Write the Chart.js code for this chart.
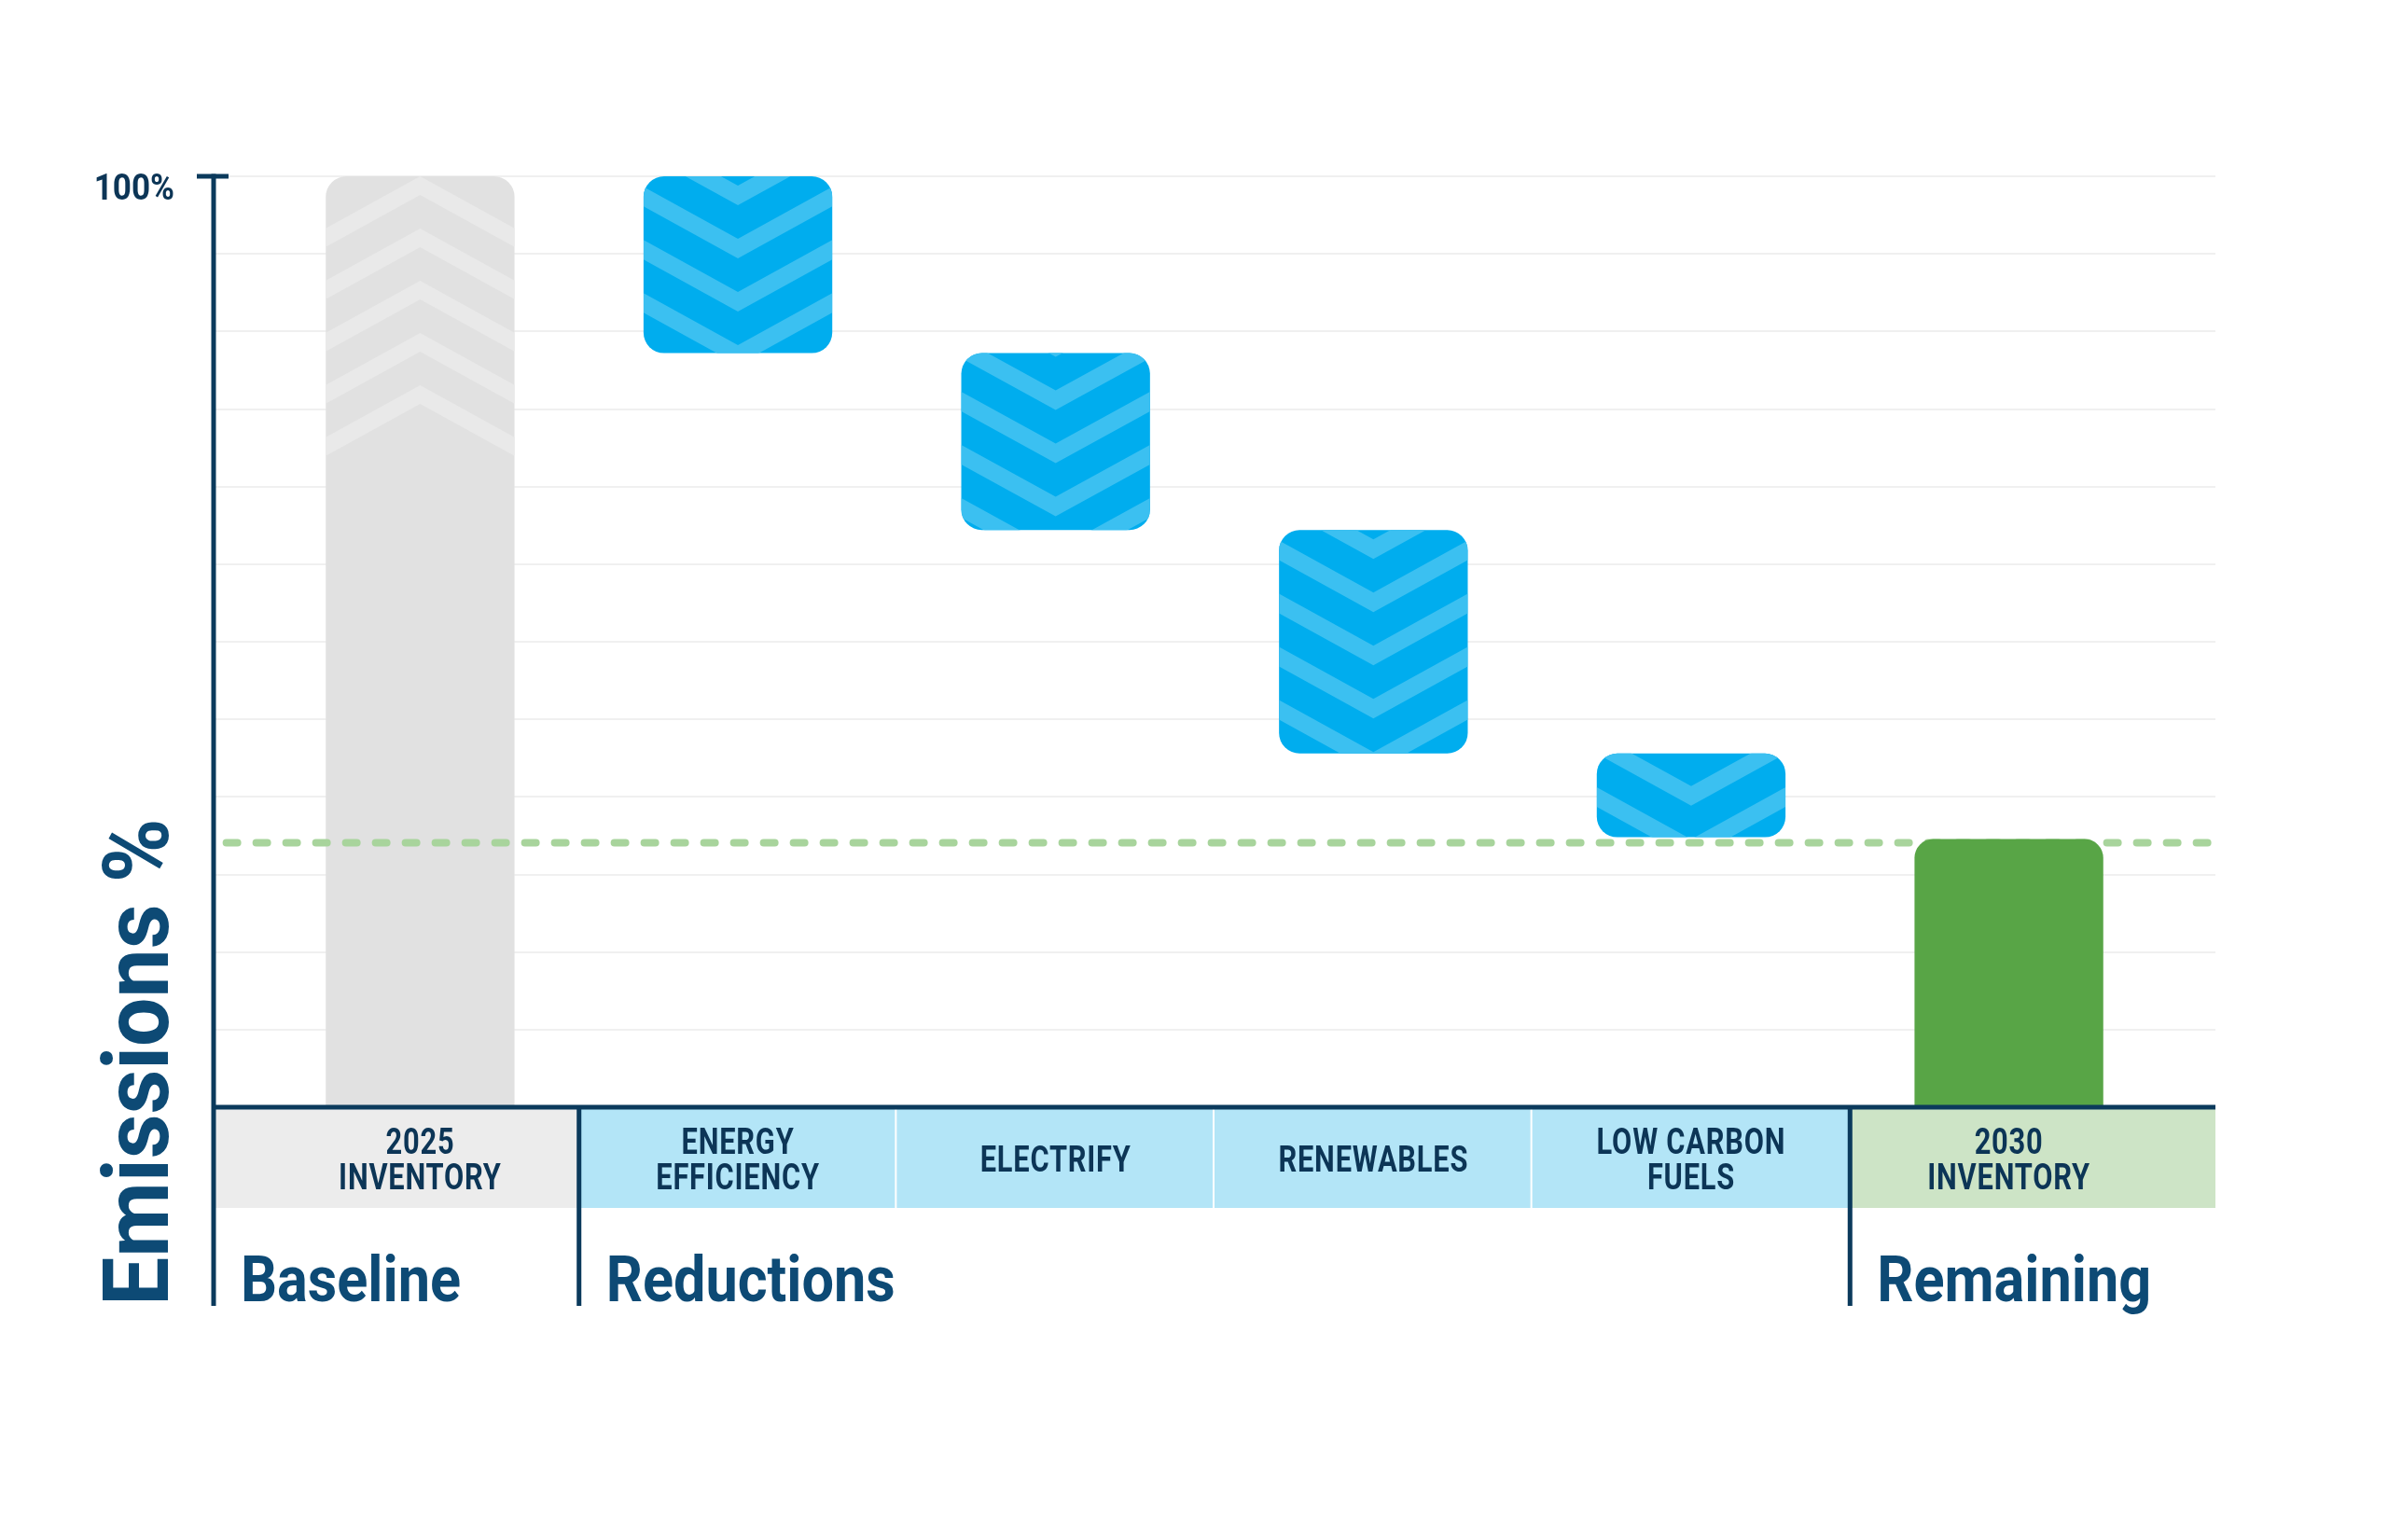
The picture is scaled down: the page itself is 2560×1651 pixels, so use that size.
<!DOCTYPE html>
<html>
<head>
<meta charset="utf-8">
<script src="https://cdn.jsdelivr.net/npm/chart.js@4.4.1/dist/chart.umd.min.js"></script>
<style>
  html, body { margin: 0; padding: 0; background: #fff; }
  canvas { display: block; }
</style>
</head>
<body>
<canvas id="chart" width="2560" height="1651"></canvas>
<script>
// ── Data ──
const categories = [['2025', 'INVENTORY'], ['ENERGY', 'EFFICIENCY'], ['ELECTRIFY'], ['RENEWABLES'], ['LOW CARBON', 'FUELS'], ['2030', 'INVENTORY']];
const categoryGroup = [0, 1, 1, 1, 1, 2];
const sections = ['Baseline', 'Reductions', 'Remaining'];
const baselineValue = 100;
const reductionFrom = [100, 81, 62, 38];
const reductionTo = [81, 62, 38, 29];
const remainingValue = 28.8;
const targetLevel = 28.4;
const yTopLabel = '100%';
const yTitle = 'Emissions %';

// ── Styles ──
const NAVY = '#0b3a5c';
const LABEL = '#0c3556';
const TITLE = '#0d4a75';
const GRAY = '#e1e1e1', GRAY_LIGHT = '#e9e9e9';
const BLUE = '#00adee', BLUE_LIGHT = '#3bc0f1';
const GREEN = '#58a546';
const DASH = '#a8d49c';
const BOX = ['#ececec', '#b3e5f7', '#cde4c6'];
const X_MIN = -0.65, X_MAX = 5.65;

// ── chevron stripes clipped to a bar ──
function drawChevrons(ctx, el, opt, phase, radius) {
  const { x, y, base, width } = el.getProps(['x', 'y', 'base', 'width'], true);
  const left = x - width / 2, right = x + width / 2;
  const top = Math.min(y, base), bottom = Math.max(y, base);
  const drop = (width / 2) * 0.55, period = opt.period, band = opt.band;
  ctx.save();
  ctx.beginPath();
  ctx.roundRect(left, top, width, bottom - top, radius);
  ctx.clip();
  ctx.fillStyle = opt.light;
  const from = opt.count ? 0 : -1;
  const to = opt.count ? opt.count : Math.ceil((bottom - top) / period) + 2;
  for (let k = from; k < to; k++) {
    const c = top + phase + k * period;
    const e = opt.dir === 'down' ? c - drop : c + drop;
    ctx.beginPath();
    ctx.moveTo(left, e); ctx.lineTo(x, c); ctx.lineTo(right, e);
    ctx.lineTo(right, e + band); ctx.lineTo(x, c + band); ctx.lineTo(left, e + band);
    ctx.closePath();
    ctx.fill();
  }
  ctx.restore();
}

function squeezeText(ctx, str, x, y, font, color, align, sx, spacing) {
  ctx.save();
  ctx.font = font;
  ctx.fillStyle = color;
  ctx.textAlign = align;
  ctx.textBaseline = 'alphabetic';
  if (spacing) ctx.letterSpacing = spacing;
  ctx.translate(x, y);
  ctx.scale(sx, 1);
  ctx.fillText(str, 0, 0);
  ctx.restore();
}

const decor = {
  id: 'decor',
  afterDatasetDraw(chart, args) {
    const ds = chart.data.datasets[args.index];
    if (!ds.chevron) return;
    const ctx = chart.ctx;
    args.meta.data.forEach((el, i) => {
      drawChevrons(ctx, el, ds.chevron, ds.chevron.phases[i], ds.chevron.radius);
    });
  },
  afterDraw(chart) {
    const ctx = chart.ctx;
    const { left, right, bottom } = chart.chartArea;
    const xs = chart.scales.x, ys = chart.scales.y;
    const yTop = ys.getPixelForValue(100);
    const boxTop = bottom + 2, boxBottom = bottom + 108;
    const stemBottom = bottom + 213;
    const last = categories.length - 1;
    const edge = i => i < 0 ? left : i >= last ? right : xs.getPixelForValue(i + 0.5);

    // category boxes
    categories.forEach((lines, i) => {
      const x0 = edge(i - 1), x1 = edge(i);
      ctx.fillStyle = BOX[categoryGroup[i]];
      ctx.fillRect(x0, boxTop, x1 - x0, boxBottom - boxTop);
      if (i < last && categoryGroup[i] === categoryGroup[i + 1]) {
        ctx.fillStyle = '#fff';
        ctx.fillRect(x1 - 2, boxTop, 4, boxBottom - boxTop);
      }
      const cx = xs.getPixelForValue(i);
      const mid = (boxTop + boxBottom) / 2;
      lines.forEach((t, k) => {
        const cy = mid + (k - (lines.length - 1) / 2) * 38 + 14;
        squeezeText(ctx, t, cx, cy, 'bold 39px Roboto', LABEL, 'center', 0.79, '1px');
      });
    });

    ctx.fillStyle = NAVY;
    // y axis stem + top tick
    ctx.fillRect(left - 2.5, yTop - 2.5, 5, stemBottom - yTop + 2.5);
    ctx.fillRect(left - 18, yTop - 2.5, 34, 5);
    // x axis
    ctx.fillRect(left, bottom - 2.5, right - left, 5);
    // section dividers + section titles
    sections.forEach((name, g) => {
      const idx = categoryGroup.indexOf(g);
      const x0 = g === 0 ? left : edge(idx - 1);
      if (g > 0) {
        ctx.fillStyle = NAVY;
        ctx.fillRect(x0 - 2.5, bottom, 5, stemBottom - bottom);
      }
      squeezeText(ctx, name, x0 + 29, bottom + 208, 'bold 68px Roboto', TITLE, 'left', 0.9);
    });

    // 100% label
    squeezeText(ctx, yTopLabel, left - 42, yTop + 25, 'bold 39px Roboto', LABEL, 'right', 0.9);

    // rotated axis title
    ctx.save();
    ctx.translate(left - 49, stemBottom);
    ctx.rotate(-Math.PI / 2);
    squeezeText(ctx, yTitle, 0, 0, 'bold 98px Roboto', TITLE, 'left', 0.95);
    ctx.restore();
  }
};

function build() {
  const ctx = document.getElementById('chart');
  new Chart(ctx, {
    type: 'bar',
    data: {
      datasets: [
        {
          label: 'Baseline',
          data: [{ x: 0, y: [0, baselineValue] }],
          backgroundColor: GRAY,
          borderSkipped: false,
          borderRadius: { topLeft: 22, topRight: 22, bottomLeft: 0, bottomRight: 0 },
          grouped: false,
          order: 3,
          chevron: { dir: 'up', light: GRAY_LIGHT, period: 56, band: 20, count: 5, phases: [0], radius: [22, 22, 0, 0] }
        },
        {
          type: 'line',
          label: 'Target',
          data: [{ x: X_MIN + 0.04, y: targetLevel }, { x: X_MAX, y: targetLevel }],
          borderColor: DASH,
          borderWidth: 8,
          borderDash: [12, 20],
          borderCapStyle: 'round',
          pointRadius: 0,
          order: 2
        },
        {
          label: 'Reductions',
          data: reductionFrom.map((v, i) => ({ x: i + 1, y: [reductionTo[i], v] })),
          backgroundColor: BLUE,
          borderSkipped: false,
          borderRadius: 22,
          grouped: false,
          order: 1,
          chevron: { dir: 'down', light: BLUE_LIGHT, period: 57, band: 21, phases: [10, 40, 10, 35], radius: 22 }
        },
        {
          label: 'Remaining',
          data: [{ x: 5, y: [0, remainingValue] }],
          backgroundColor: GREEN,
          borderSkipped: false,
          borderRadius: { topLeft: 20, topRight: 20, bottomLeft: 0, bottomRight: 0 },
          grouped: false,
          order: 1
        }
      ]
    },
    options: {
      responsive: false,
      animation: false,
      devicePixelRatio: 1,
      layout: { padding: { left: 229, top: 189, right: 185, bottom: 464 } },
      datasets: { bar: { categoryPercentage: 1, barPercentage: 0.594 } },
      plugins: { legend: { display: false }, tooltip: { enabled: false } },
      scales: {
        x: {
          type: 'linear', min: X_MIN, max: X_MAX, offset: false, display: false,
          ticks: { stepSize: 1, includeBounds: false }
        },
        y: {
          min: 0, max: 100,
          ticks: { display: false, count: 13 },
          grid: { color: '#f0f0f0', lineWidth: 2, drawTicks: false },
          border: { display: false }
        }
      }
    },
    plugins: [decor]
  });
}

document.fonts.load('bold 40px Roboto').then(build, build);
</script>
</body>
</html>
